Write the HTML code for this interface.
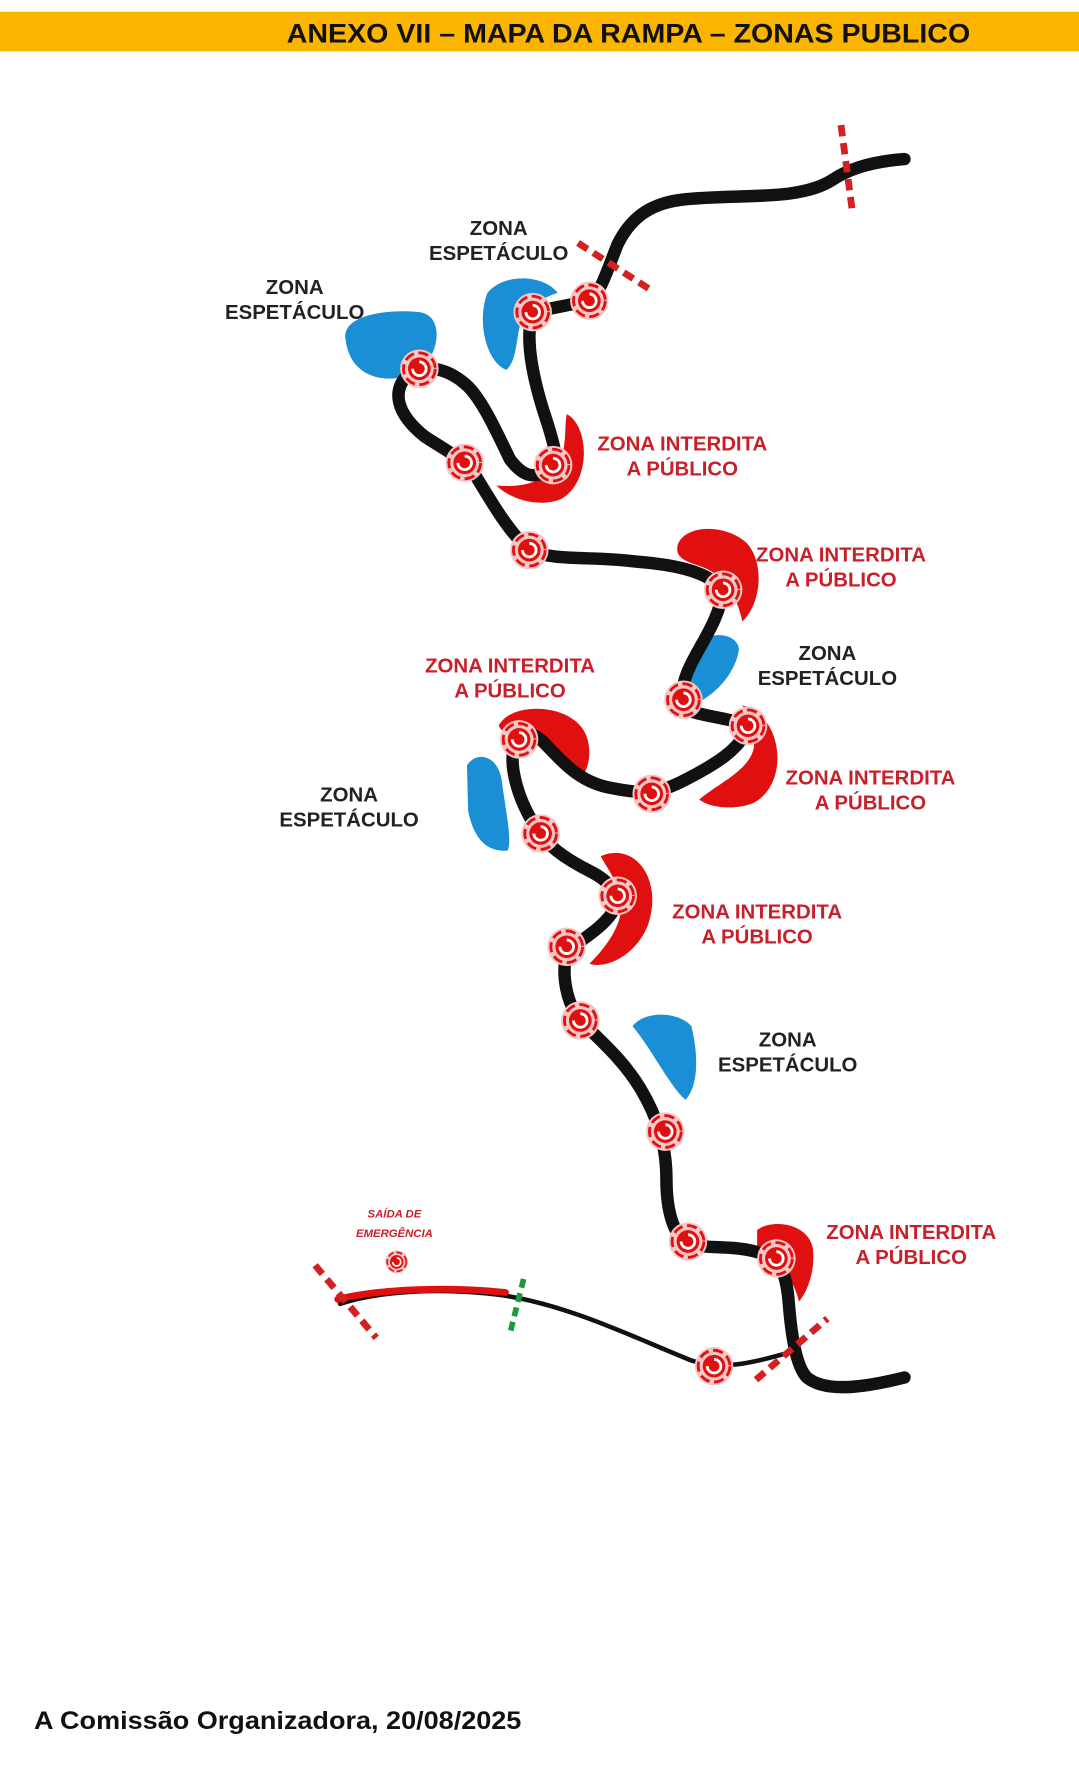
<!DOCTYPE html>
<html><head><meta charset="utf-8"><style>
html,body{margin:0;padding:0;background:#fff;}
svg{display:block}
</style></head><body>
<svg width="1079" height="1778" viewBox="0 0 952 1568" xmlns="http://www.w3.org/2000/svg">
<defs>
<g id="m">
<circle r="17" fill="#f4c6c6"/>
<circle r="14" fill="none" stroke="#e01010" stroke-width="2.5" stroke-dasharray="9 4"/>
<circle r="10" fill="#e01010"/>
<path d="M0,-6 A6,6 0 1 1 -6,0" fill="none" stroke="#fff" stroke-width="2.5"/>
</g>
</defs>
<rect x="0" y="10" width="952" height="35" fill="#fbb400"/>
<text x="253" y="37" textLength="603" lengthAdjust="spacingAndGlyphs" font-family="Liberation Sans, sans-serif" font-weight="bold" font-size="24" fill="#111">ANEXO VII – MAPA DA RAMPA – ZONAS PUBLICO</text>

<g fill="#1b8fd6">
<path d="M305,300 C300,278 340,272 370,275 C392,278 388,310 372,325 C350,340 310,338 305,300 Z"/>
<path d="M430,258 C445,240 480,242 492,258 C480,262 462,270 458,290 C455,305 455,318 447,326 C430,320 420,285 430,258 Z"/>
<path d="M615,570 C625,555 650,558 652,572 C650,590 635,610 615,620 C600,612 605,585 615,570 Z"/>
<path d="M412,675 C420,662 440,665 443,690 C446,715 452,740 448,750 C430,752 418,740 413,715 Z"/>
<path d="M558,905 C570,890 600,893 610,905 C615,925 618,955 605,970 C592,960 575,925 558,905 Z"/>
</g>
<g fill="#e01010">
<path d="M500,365 C520,375 522,425 495,440 C475,448 450,440 438,428 C460,430 485,425 495,405 C500,390 498,375 500,365 Z"/>
<path d="M598,480 C605,462 640,462 658,478 C675,495 672,532 655,548 C650,525 640,508 620,500 C605,495 595,492 598,480 Z"/>
<path d="M440,640 C450,620 495,620 512,640 C525,655 520,680 512,686 C500,675 490,650 465,645 C452,645 445,650 440,640 Z"/>
<path d="M655,622 C690,630 698,690 665,708 C648,715 625,712 617,705 C635,690 660,680 665,660 C667,645 660,630 655,622 Z"/>
<path d="M530,755 C560,742 585,775 572,815 C562,842 535,855 520,850 C535,835 550,815 548,795 C546,778 535,765 530,755 Z"/>
<path d="M668,1085 C680,1075 712,1078 717,1100 C720,1120 712,1140 705,1148 C700,1128 690,1115 668,1110 Z"/>
</g>

<g fill="none" stroke="#111" stroke-linecap="round" stroke-linejoin="round">
<path stroke-width="11" d="M798,140 C770,142 750,148 735,158 C705,178 650,170 600,176 C570,180 555,195 545,215 C535,240 530,258 520,265 L470,275 C462,300 472,340 482,370 C490,395 492,405 488,412"/>
<path stroke-width="11" d="M488,412 C470,425 460,418 450,405 C440,385 425,350 410,338 C395,325 375,320 360,330 C345,345 350,365 375,385 C395,398 410,405 420,420 C435,445 450,470 467,485 C490,495 520,490 560,495 C600,498 625,505 638,520 C635,545 620,565 610,585 C600,605 600,620 603,625 C620,632 640,632 660,640 C655,660 630,675 600,690 C580,700 565,700 540,695 C510,690 495,670 480,655 C470,645 460,645 455,655 C448,670 455,700 470,725 C480,745 500,758 520,768 C540,778 548,790 540,805 C530,820 510,830 500,840 C495,860 500,885 512,900 C530,918 550,935 565,960 C580,985 588,1010 588,1040 C588,1070 595,1090 607,1097 C625,1102 650,1098 670,1105 C690,1112 694,1125 696,1150 C698,1175 702,1205 712,1215 C730,1230 770,1222 798,1215"/>
<path stroke-width="4" d="M300,1150 C330,1140 380,1135 440,1142 C500,1150 560,1180 610,1200 C640,1210 670,1200 700,1192"/>
</g>
<path d="M298,1146 C330,1138 390,1134 446,1140" fill="none" stroke="#e01010" stroke-width="6" stroke-linecap="round"/>

<g stroke="#d42020" stroke-width="6" stroke-dasharray="10 6" fill="none">
<line x1="742" y1="110" x2="752" y2="186"/>
<line x1="510" y1="214" x2="575" y2="256"/>
<line x1="278" y1="1116" x2="332" y2="1180"/>
<line x1="667" y1="1217" x2="730" y2="1163"/>
</g>
<line x1="462" y1="1128" x2="450" y2="1176" stroke="#1a9a3a" stroke-width="5" stroke-dasharray="8 5"/>

<use href="#m" x="470" y="275"/><use href="#m" x="520" y="265"/>
<use href="#m" x="370" y="325"/><use href="#m" x="410" y="408"/>
<use href="#m" x="488" y="410"/><use href="#m" x="467" y="485"/>
<use href="#m" x="638" y="520"/><use href="#m" x="603" y="617"/>
<use href="#m" x="660" y="640"/><use href="#m" x="458" y="652"/>
<use href="#m" x="575" y="700"/><use href="#m" x="477" y="735"/>
<use href="#m" x="545" y="790"/><use href="#m" x="500" y="835"/>
<use href="#m" x="512" y="900"/><use href="#m" x="587" y="998"/>
<use href="#m" x="607" y="1095"/><use href="#m" x="685" y="1110"/>
<use href="#m" x="630" y="1205"/>
<g transform="translate(350,1113) scale(0.6)"><use href="#m"/></g>

<g font-family="Liberation Sans, sans-serif" font-weight="bold" font-size="18" text-anchor="middle" fill="#222">
<text x="440" y="207">ZONA</text><text x="440" y="229">ESPETÁCULO</text>
<text x="260" y="259">ZONA</text><text x="260" y="281">ESPETÁCULO</text>
<text x="730" y="582">ZONA</text><text x="730" y="604">ESPETÁCULO</text>
<text x="308" y="707">ZONA</text><text x="308" y="729">ESPETÁCULO</text>
<text x="695" y="923">ZONA</text><text x="695" y="945">ESPETÁCULO</text>
</g>
<g font-family="Liberation Sans, sans-serif" font-weight="bold" font-size="18" text-anchor="middle" fill="#c8202a">
<text x="602" y="397">ZONA INTERDITA</text><text x="602" y="419">A PÚBLICO</text>
<text x="742" y="495">ZONA INTERDITA</text><text x="742" y="517">A PÚBLICO</text>
<text x="450" y="593">ZONA INTERDITA</text><text x="450" y="615">A PÚBLICO</text>
<text x="768" y="692">ZONA INTERDITA</text><text x="768" y="714">A PÚBLICO</text>
<text x="668" y="810">ZONA INTERDITA</text><text x="668" y="832">A PÚBLICO</text>
<text x="804" y="1093">ZONA INTERDITA</text><text x="804" y="1115">A PÚBLICO</text>
<text x="348" y="1074" font-size="10" font-style="italic">SAÍDA DE</text>
<text x="348" y="1091" font-size="10" font-style="italic">EMERGÊNCIA</text>
</g>
<text x="30" y="1525" textLength="430" lengthAdjust="spacingAndGlyphs" font-family="Liberation Sans, sans-serif" font-weight="bold" font-size="22" fill="#111">A Comissão Organizadora, 20/08/2025</text>
</svg>
</body></html>
